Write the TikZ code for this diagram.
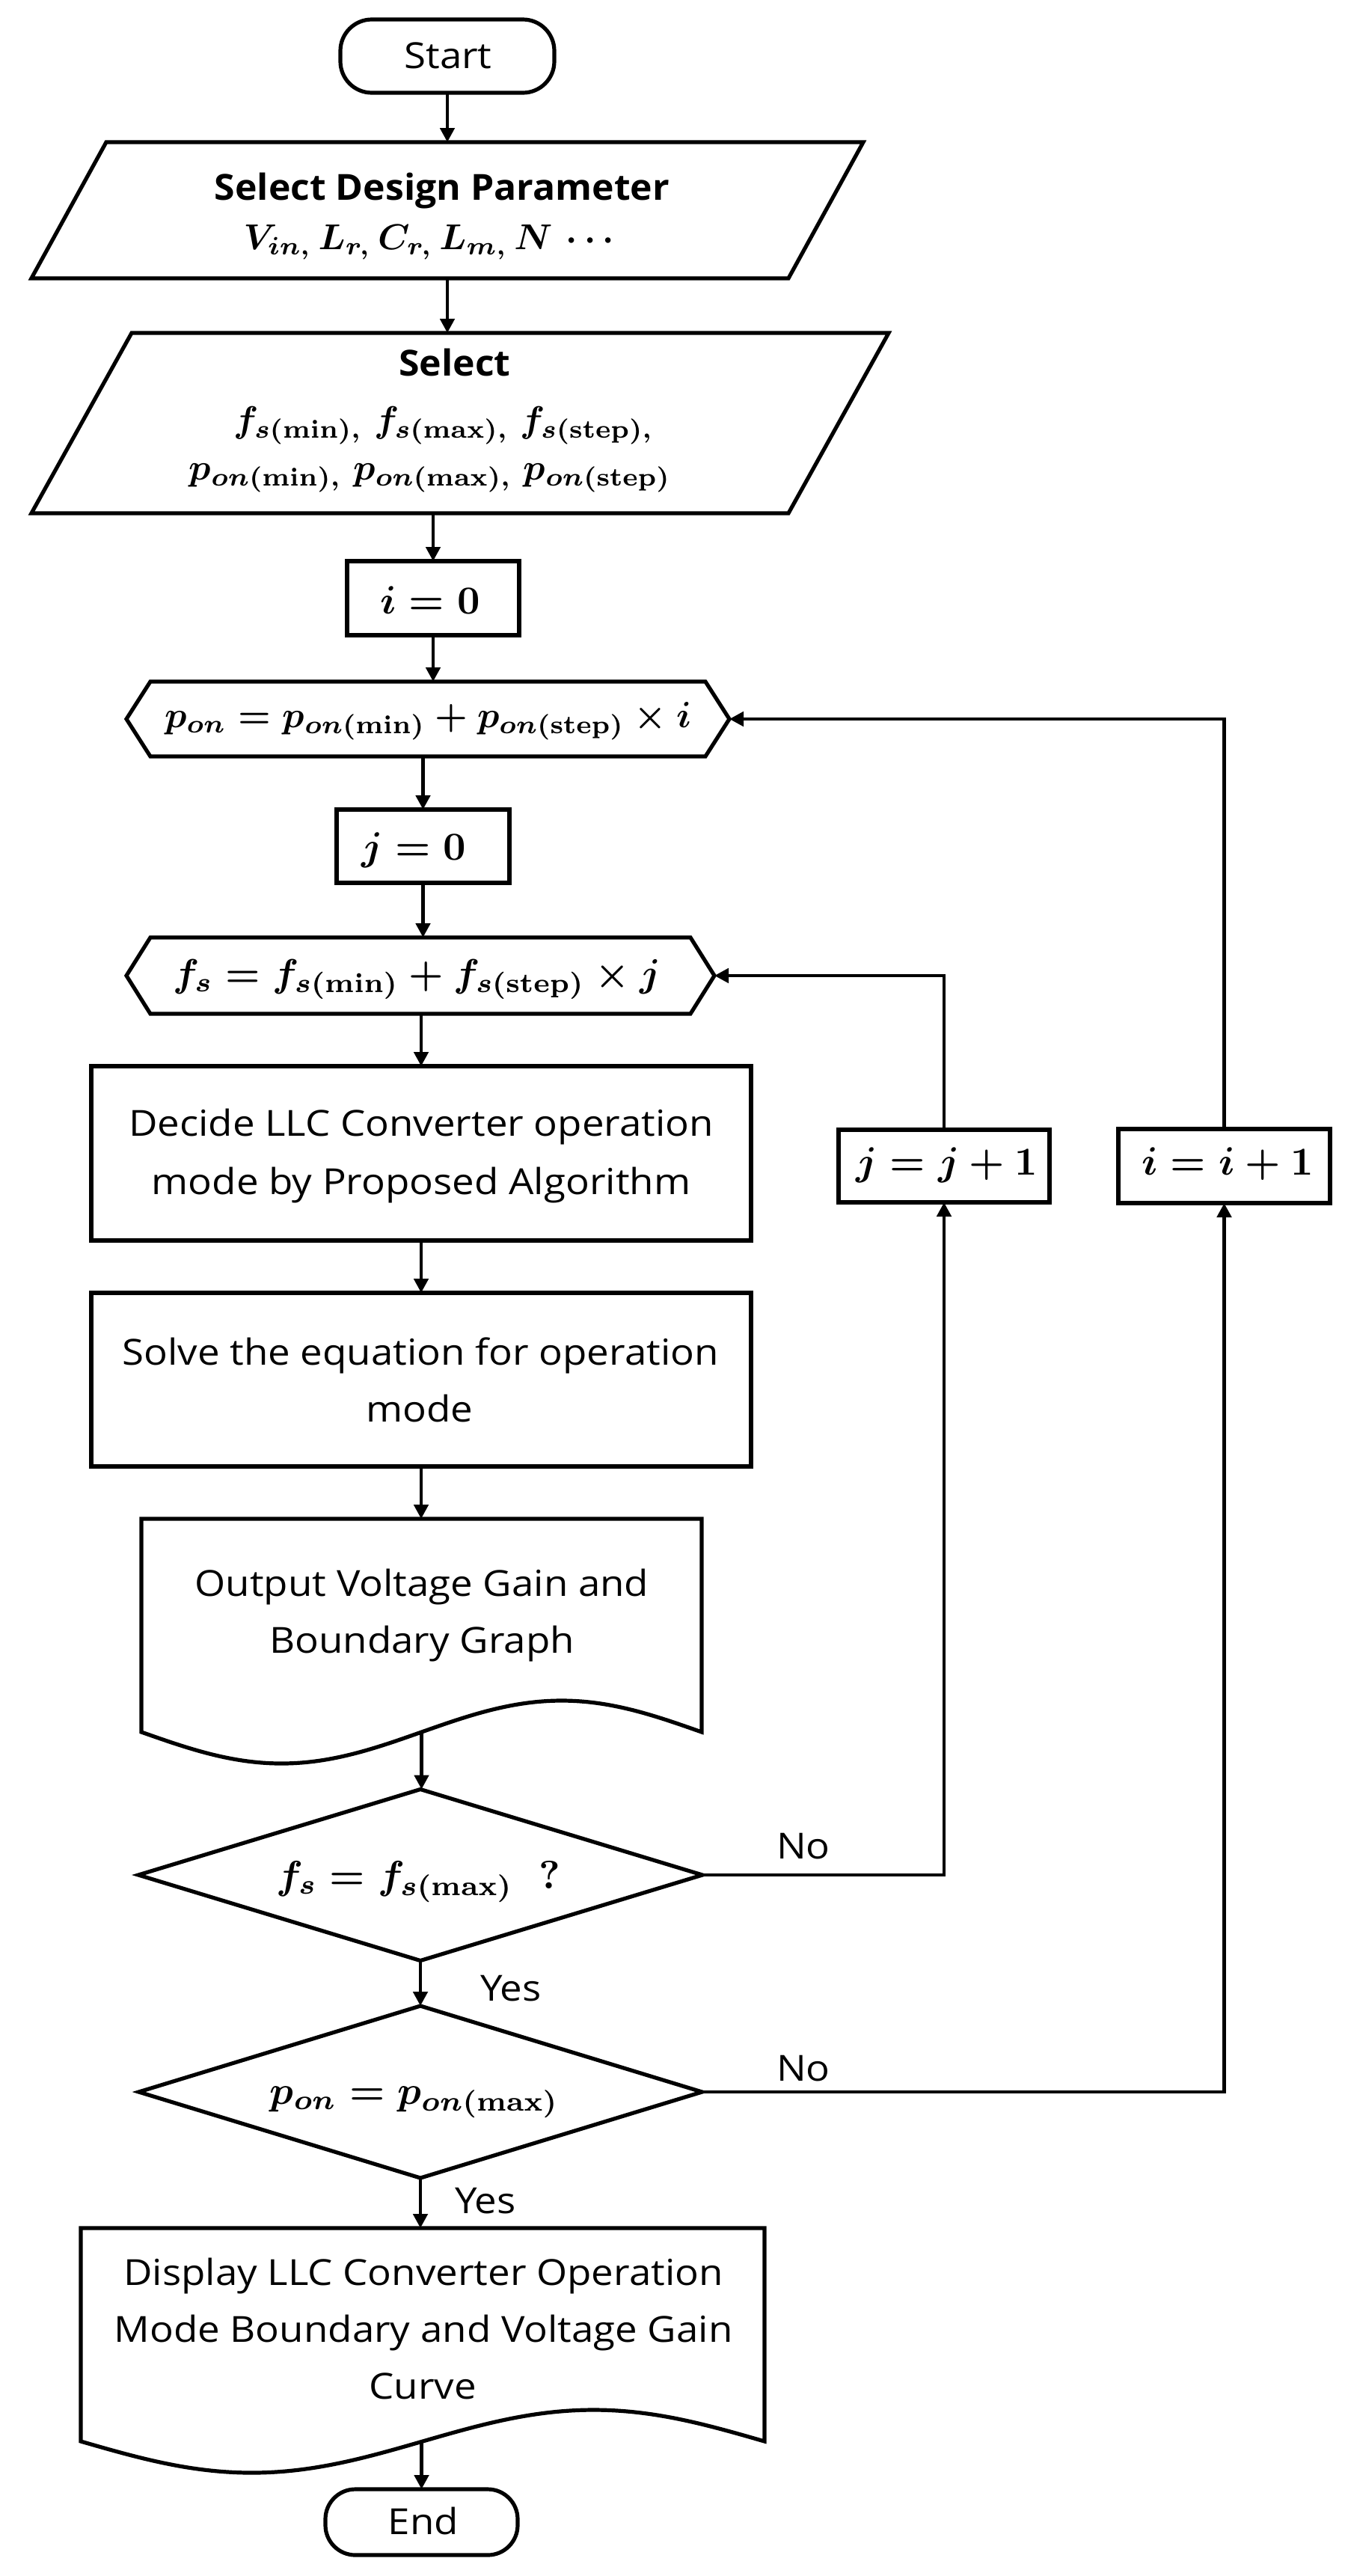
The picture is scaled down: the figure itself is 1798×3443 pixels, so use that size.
\documentclass[tikz,border=0pt]{standalone}
\usepackage{amsmath}
\usepackage{graphicx}
\usepackage[no-math]{fontspec}
\setmainfont{Open Sans}[UprightFeatures={FakeStretch=1.1}, BoldFeatures={FakeStretch=1.04}]
\usetikzlibrary{arrows.meta,calc}
\newcommand{\txf}{\fontsize{48}{58}\selectfont}
\newcommand{\mth}[2][5.3]{\scalebox{#1}{\boldmath$#2$}}
\begin{document}
\begin{tikzpicture}[x=1pt,y=-1pt,
  every node/.style={inner sep=0pt, outer sep=0pt},
  lw/.style={line width=5.2pt},
  frame/.style={rectangle, minimum width=#1},
  box/.style={draw, lw, rectangle},
  term/.style={draw, lw, rectangle, rounded corners=42pt},
  shp/.style={lw, line join=miter},
  arr/.style={line width=4.8pt, -{Triangle[length=19pt,width=19pt]}},
  tx/.style={anchor=base, font=\txf},
  tb/.style={anchor=base, font=\txf\bfseries},
  mt/.style={anchor=base},
  lbl/.style={anchor=base west, font=\txf}]
\fill[white] (0,0) rectangle (1798,3443);
\useasboundingbox (0,0) rectangle (1798,3443);

% ---------- shapes ----------
\node[term, minimum width=286pt, minimum height=98pt] (start) at (598,75) {};
\node[tx] (tstart) at (599,91) {Start};

\node[frame=1112pt, minimum height=182pt] (p1) at (598,281) {};
\draw[shp] (p1.south west) -- ($(p1.north west)+(100,0)$) -- (p1.north east) -- ($(p1.south east)+(-100,0)$) -- cycle;
\node[tb] (tp1a) at (591,267) {Select Design Parameter};
\node[mt] (tp1b) at (578,333) {\mth[4.8]{V_{in,}\, L_{r,}\, C_{r,}\, L_{m,}\, N\,\cdots}};

\node[frame=1146pt, minimum height=241pt] (p2) at (615,565.5) {};
\draw[shp] (p2.south west) -- ($(p2.north west)+(134,0)$) -- (p2.north east) -- ($(p2.south east)+(-134,0)$) -- cycle;
\node[tb] (tp2a) at (608,502) {Select};
\node[mt] (tp2b) at (593,577) {\mth[4.9]{f_{s(\mathrm{min}),}\; f_{s(\mathrm{max}),}\; f_{s(\mathrm{step}),}}};
\node[mt] (tp2c) at (575,641) {\mth[4.9]{p_{on(\mathrm{min}),}\; p_{on(\mathrm{max}),}\; p_{on(\mathrm{step})}}};

\node[box, minimum width=230pt, minimum height=99pt] (i0) at (579,799.5) {};
\node[mt] (ti0) at (575,820) {\mth{i=0}};

\node[frame=806pt, minimum height=100pt] (hex1) at (572,961) {};
\draw[shp] (hex1.west) -- ($(hex1.north west)+(32,0)$) -- ($(hex1.north east)+(-32,0)$) -- (hex1.east) -- ($(hex1.south east)+(-32,0)$) -- ($(hex1.south west)+(32,0)$) -- cycle;
\node[mt] (thex1) at (572,972) {\mth[4.9]{p_{on}=p_{on(\mathrm{min})}+p_{on(\mathrm{step})}\times i}};

\node[box, minimum width=231pt, minimum height=98pt] (j0) at (565.5,1131) {};
\node[mt] (tj0) at (553,1149) {\mth{j=0}};

\node[frame=786pt, minimum height=102pt] (hex2) at (562,1304) {};
\draw[shp] (hex2.west) -- ($(hex2.north west)+(32,0)$) -- ($(hex2.north east)+(-32,0)$) -- (hex2.east) -- ($(hex2.south east)+(-32,0)$) -- ($(hex2.south west)+(32,0)$) -- cycle;
\node[mt] (thex2) at (557,1318) {\mth[5.2]{f_{s}=f_{s(\mathrm{min})}+f_{s(\mathrm{step})}\times j}};

\node[box, minimum width=882pt, minimum height=233pt] (decide) at (563,1541.5) {};
\node[tx] (tdec1) at (563,1518) {Decide LLC Converter operation};
\node[tx] (tdec2) at (563,1596) {mode by Proposed Algorithm};

\node[box, minimum width=882pt, minimum height=232pt] (solve) at (563,1844) {};
\node[tx] (tsol1) at (562,1824) {Solve the equation for operation};
\node[tx] (tsol2) at (561,1900) {mode};

\node[frame=749pt, minimum height=285pt] (doc1) at (563.5,2172.5) {};
\draw[shp] (doc1.south west) -- (doc1.north west) -- (doc1.north east) -- (doc1.south east)
  sin ++(-187.25,-42) cos ++(-187.25,42) sin ++(-187.25,42) cos ++(-187.25,-42) -- cycle;
\node[tx] (tdoc1a) at (564,2133) {Output Voltage Gain and};
\node[tx] (tdoc1b) at (564,2209) {Boundary Graph};

\node[frame=754pt, minimum height=229pt] (dia1) at (562,2506) {};
\draw[shp] (dia1.north) -- (dia1.east) -- (dia1.south) -- (dia1.west) -- cycle;
\node[mt] (tdia1) at (559,2524) {\mth{f_{s}=f_{s(\mathrm{max})}\;\;?}};

\node[frame=753pt, minimum height=230pt] (dia2) at (562,2796) {};
\draw[shp] (dia2.north) -- (dia2.east) -- (dia2.south) -- (dia2.west) -- cycle;
\node[mt] (tdia2) at (554,2812) {\mth{p_{on}=p_{on(\mathrm{max})}}};

\node[frame=914pt, minimum height=285pt] (disp) at (565,3120.5) {};
\draw[shp] (disp.south west) -- (disp.north west) -- (disp.north east) -- (disp.south east)
  sin ++(-228.5,-42) cos ++(-228.5,42) sin ++(-228.5,42) cos ++(-228.5,-42) -- cycle;
\node[tx] (tdisp1) at (566,3054) {Display LLC Converter Operation};
\node[tx] (tdisp2) at (566,3130) {Mode Boundary and Voltage Gain};
\node[tx] (tdisp3) at (565,3206) {Curve};

\node[term, minimum width=257pt, minimum height=88pt, rounded corners=40pt] (end) at (563.5,3371) {};
\node[tx] (tend) at (566,3387) {End};

\node[box, minimum width=282pt, minimum height=97pt] (j1) at (1262,1558.5) {};
\node[mt] (tj1) at (1266,1570) {\mth{j=j+1}};

\node[box, minimum width=283pt, minimum height=99pt] (i1) at (1636.5,1558.5) {};
\node[mt] (ti1) at (1641,1570) {\mth{i=i+1}};

% ---------- labels ----------
\node[lbl] (no1) at (1038,2484) {No};
\node[lbl] (yes1) at (642,2674) {Yes};
\node[lbl] (no2) at (1038,2781) {No};
\node[lbl] (yes2) at (608,2958) {Yes};

% ---------- connectors ----------
\draw[arr] (start.south) -- (start.south |- p1.north);
\draw[arr] (p1.south) -- (p1.south |- p2.north);
\draw[arr] (i0.north |- p2.south) -- (i0.north);
\draw[arr] (i0.south) -- (i0.south |- hex1.north);
\draw[arr] (j0.north |- hex1.south) -- (j0.north);
\draw[arr] (j0.south) -- (j0.south |- hex2.north);
\draw[arr] (decide.north |- hex2.south) -- (decide.north);
\draw[arr] (decide.south) -- (solve.north);
\draw[arr] (solve.south) -- (solve.south |- doc1.north);
\draw[arr] (doc1.south) -- (doc1.south |- dia1.north);
\draw[arr] (dia1.south) -- (dia2.north);
\draw[arr] (dia2.south) -- (dia2.south |- disp.north);
\draw[arr] (end.north |- disp.south) -- (end.north);
\draw[arr] (dia1.east) -- (dia1.east -| j1.south) -- (j1.south);
\draw[arr] (j1.north) -- (j1.north |- hex2.east) -- (hex2.east);
\draw[arr] (dia2.east) -- (dia2.east -| i1.south) -- (i1.south);
\draw[arr] (i1.north) -- (i1.north |- hex1.east) -- (hex1.east);
\end{tikzpicture}
\end{document}
